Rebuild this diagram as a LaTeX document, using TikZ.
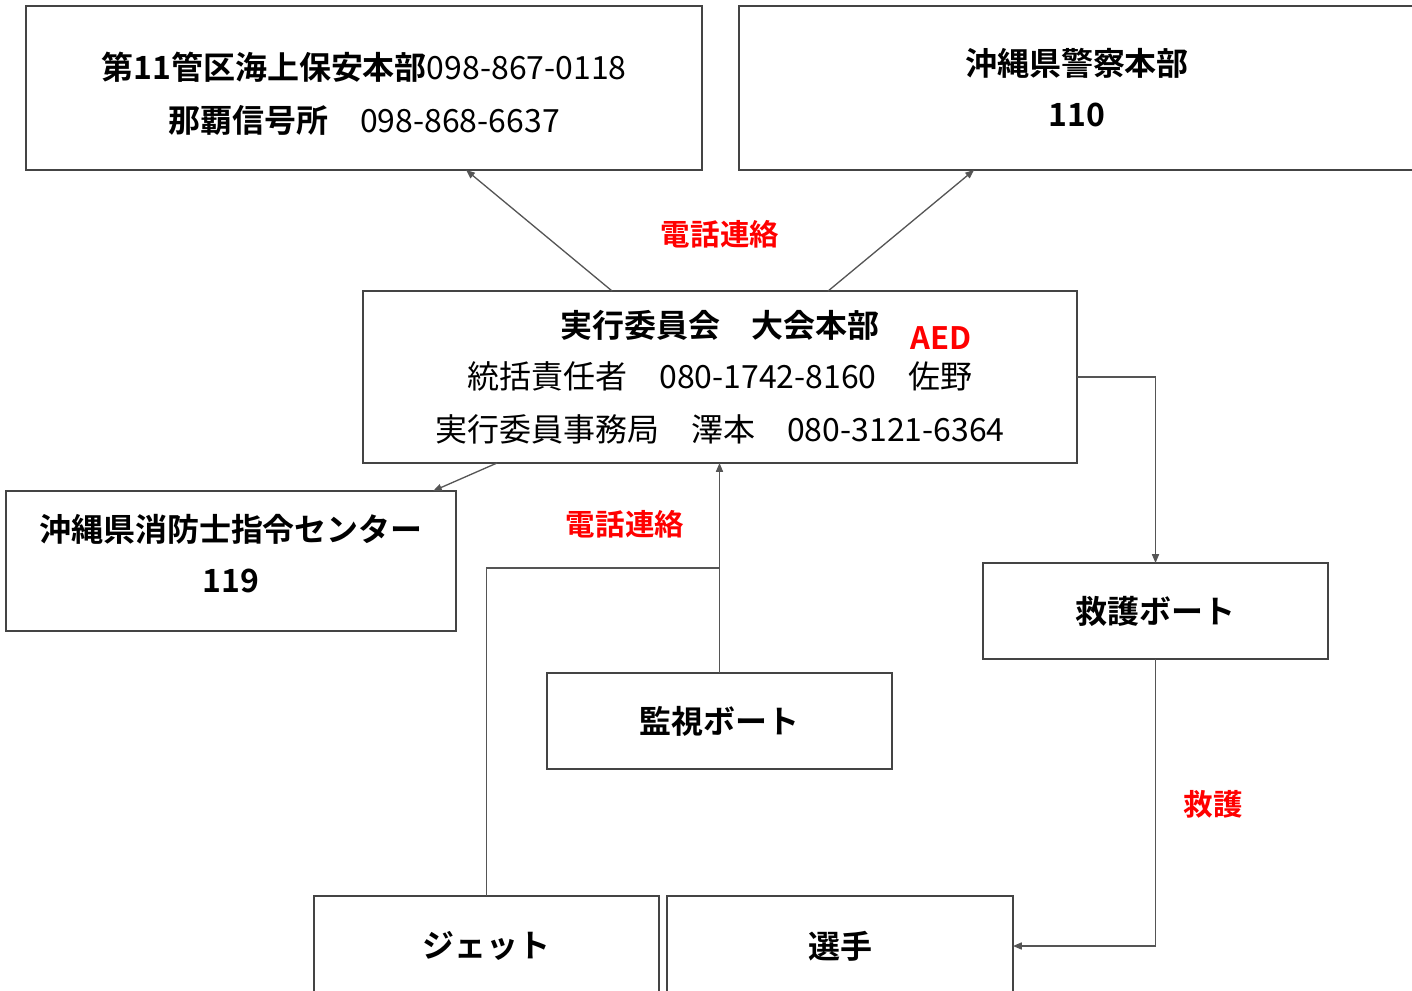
\documentclass[tikz,border=0pt]{standalone}
\usepackage{fontspec}
\setmainfont{Noto Sans CJK JP}[BoldFont={Noto Sans CJK JP Bold}]
\usetikzlibrary{arrows.meta,calc}
\definecolor{boxgray}{HTML}{444444}
\definecolor{linegray}{HTML}{555555}
\definecolor{labred}{HTML}{FF0000}
\begin{document}
\begin{tikzpicture}[x=0.02cm,y=-0.02cm,
  box/.style={draw=boxgray,line width=1.5pt,inner sep=0pt,outer sep=0pt,align=center,
    font=\fontsize{18.2}{29}\selectfont},
  txt/.style={inner sep=0pt,align=center,font=\fontsize{18.2}{29}\selectfont},
  conn/.style={draw=linegray,line width=0.75pt},
  arr/.style={conn,-{Triangle[length=5pt,width=4pt]}},
  lab/.style={text=labred,font=\fontsize{16.8}{29}\selectfont\bfseries,inner sep=0pt}]
\useasboundingbox (0,0) rectangle (1412,990);
\clip (0,0) rectangle (1412,990);
\node[box,minimum width=13.52cm,minimum height=3.28cm] (cg) at (364,88) {};
\node[txt] (cgt) at (364,94)
  {\textbf{第11管区海上保安本部}098-867-0118\\[1pt]\textbf{那覇信号所}　098-868-6637};
\node[box,minimum width=13.52cm,minimum height=3.28cm] (pol) at (1077,88)
  {\textbf{沖縄県警察本部}\\\textbf{110}};
\node[box,minimum width=14.28cm,minimum height=3.44cm] (hq) at (720,377)
  {\textbf{実行委員会　大会本部}\\統括責任者　080-1742-8160　佐野\\[1pt]実行委員事務局　澤本　080-3121-6364};
\node[lab,font=\fontsize{17.6}{29}\selectfont\bfseries] (aed) at (941,338) {AED};
\node[box,minimum width=9cm,minimum height=2.8cm] (fire) at (231,561) {};
\node[txt] (firet) at (231,554) {\textbf{沖縄県消防士指令センター}\\\textbf{119}};
\node[box,minimum width=6.9cm,minimum height=1.92cm] (res) at (1155.5,611) {\textbf{救護ボート}};
\node[box,minimum width=6.9cm,minimum height=1.92cm] (mon) at (719.5,721) {\textbf{監視ボート}};
\node[box,minimum width=6.9cm,minimum height=2cm] (jet) at (486.5,946) {\textbf{ジェット}};
\node[box,minimum width=6.92cm,minimum height=2cm] (pl) at (840,946) {\textbf{選手}};
\node[lab] (l1) at (720,234) {電話連絡};
\node[lab] (l2) at (625,524) {電話連絡};
\node[lab] (l3) at (1213,804) {救護};
\coordinate (jt) at (720,568);
\draw[arr] ($(hq.north west)+(249,0)$) -- ($(cg.south west)+(440,0)$);
\draw[arr] ($(hq.north west)+(465,0)$) -- ($(pol.south west)+(235,0)$);
\draw[arr] ($(hq.south west)+(134,0)$) -- ($(fire.north west)+(427,0)$);
\draw[arr] (mon.north) -- (mon.north |- hq.south);
\draw[conn] (jet.north) |- (jt);
\draw[arr] (hq.east) -| (res.north);
\draw[arr] (res.south) |- (pl.east);
\end{tikzpicture}
\end{document}
